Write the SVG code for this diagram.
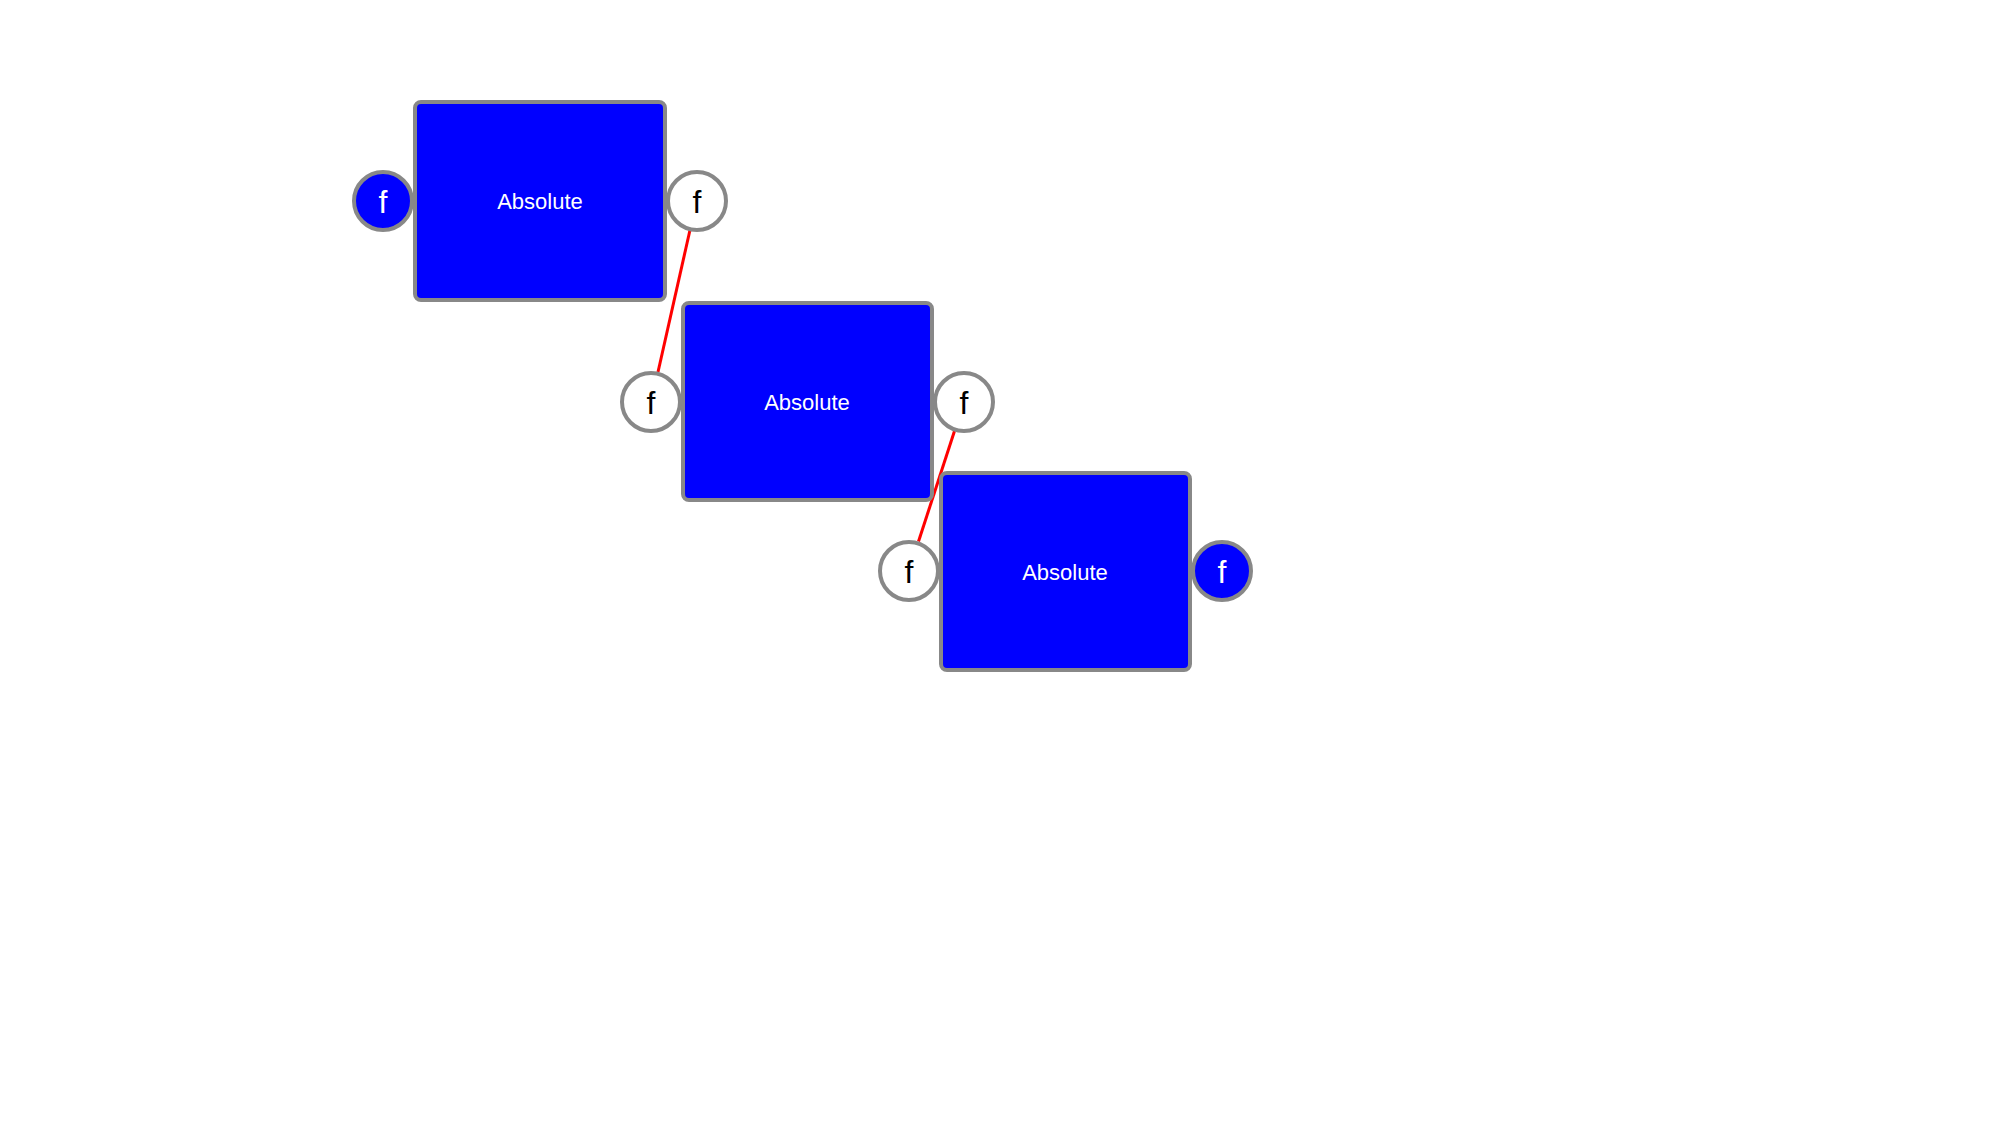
<svg xmlns="http://www.w3.org/2000/svg" width="1999" height="1139" viewBox="0 0 1999 1139">
<style>
.box{fill:#0000ff;stroke:#888;stroke-width:4}
.port{stroke:#888;stroke-width:4}
.pw{fill:#fff}
.pb{fill:#0000ff}
.lbl{font-family:"Liberation Sans",Arial,sans-serif;font-size:22px;fill:#fff;text-anchor:middle}
.pt{font-family:"Liberation Sans",Arial,sans-serif;font-size:32px;text-anchor:middle}
.tk{fill:#000}
.tw{fill:#fff}
.edge{stroke:#ff0000;stroke-width:3;fill:none}
</style>
<rect width="1999" height="1139" fill="#fff"/>
<g id="connectors">
<line class="edge" x1="690" y1="230" x2="658" y2="372"/>
<line class="edge" x1="954.5" y1="431" x2="918.5" y2="541.5"/>
</g>
<g id="node1">
<rect class="box" x="415" y="102" width="250" height="198" rx="6"/>
<text class="lbl" x="540" y="209">Absolute</text>
<circle class="port pb" cx="383" cy="201" r="29"/>
<text class="pt tw" x="383" y="213">f</text>
<circle class="port pw" cx="697" cy="201" r="29"/>
<text class="pt tk" x="697" y="213">f</text>
</g>
<g id="node2">
<rect class="box" x="683" y="303" width="249" height="197" rx="6"/>
<text class="lbl" x="807" y="410">Absolute</text>
<circle class="port pw" cx="651" cy="402" r="29"/>
<text class="pt tk" x="651" y="414">f</text>
<circle class="port pw" cx="964" cy="402" r="29"/>
<text class="pt tk" x="964" y="414">f</text>
</g>
<g id="node3">
<rect class="box" x="941" y="473" width="249" height="197" rx="6"/>
<text class="lbl" x="1065" y="580">Absolute</text>
<circle class="port pw" cx="909" cy="571" r="29"/>
<text class="pt tk" x="909" y="583">f</text>
<circle class="port pb" cx="1222" cy="571" r="29"/>
<text class="pt tw" x="1222" y="583">f</text>
</g>
</svg>
